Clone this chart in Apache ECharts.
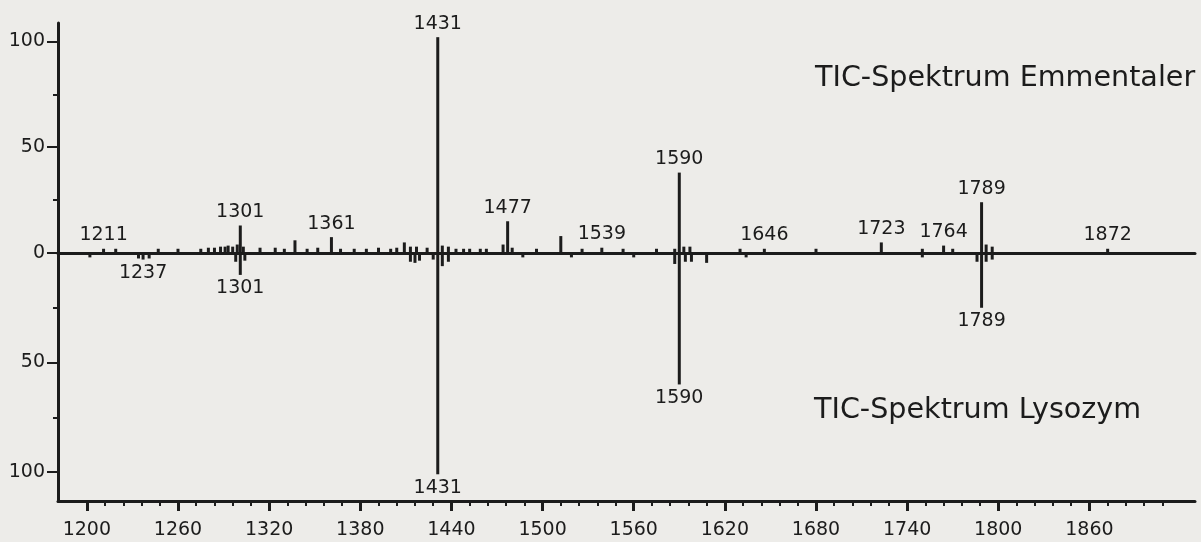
<!DOCTYPE html>
<html>
<head>
<meta charset="utf-8">
<script src="https://cdn.jsdelivr.net/npm/echarts@6/dist/echarts.min.js"></script>
<style>
  html, body { margin: 0; padding: 0; background: #edece9; }
  #main { width: 1201px; height: 542px; }
</style>
</head>
<body>
<div id="main"></div>
<script>
// m/z-Achse
const xMajorTicks = [1200, 1260, 1320, 1380, 1440, 1500, 1560, 1620, 1680, 1740, 1800, 1860];
const xMinorStep = 12;
const yMajorTop = [0, 50, 100];
const yMajorBottom = [50, 100];
const yMinor = [25, 75];

// TIC-Spektrum Emmentaler (oben)
const upperMz = [1211, 1219, 1247, 1260, 1275, 1280, 1284, 1288, 1291, 1293, 1296, 1299, 1301, 1303,
  1314, 1324, 1330, 1337, 1345, 1352, 1361, 1367, 1376, 1384, 1392, 1400, 1404, 1409, 1413, 1417,
  1424, 1431, 1434, 1438, 1443, 1448, 1452, 1459, 1463, 1474, 1477, 1480, 1496, 1512, 1526, 1539,
  1553, 1575, 1587, 1590, 1593, 1597, 1630, 1646, 1680, 1723, 1750, 1764, 1770, 1789, 1792, 1796, 1872];
const upperInt = [2, 2, 2, 2, 2, 2.5, 2.5, 3, 3, 3.5, 3, 4, 13, 3,
  2.5, 2.5, 2, 6, 2, 2.5, 7.5, 2, 2, 2, 2.5, 2, 2.5, 5, 3, 3,
  2.5, 102, 3.5, 3, 2, 2, 2, 2, 2, 4, 15, 2.5, 2, 8, 2, 2.5,
  2, 2, 2, 38, 3, 3, 2, 2, 2, 5, 2, 3.5, 2, 24, 4, 3, 2];
const upperLabels = [1211, 1301, 1361, 1431, 1477, 1539, 1590, 1646, 1723, 1764, 1789, 1872];

// TIC-Spektrum Lysozym (unten, gespiegelt)
const lowerMz = [1202, 1234, 1237, 1241, 1298, 1301, 1304, 1413, 1416, 1419, 1428, 1431, 1434, 1438,
  1487, 1519, 1560, 1587, 1590, 1594, 1598, 1608, 1634, 1750, 1786, 1789, 1792, 1796];
const lowerInt = [2, 2.5, 3, 2.5, 4, 10, 3.5, 4, 4.5, 3.5, 3, 101, 6, 4,
  2, 2, 2, 5, 60, 4, 4, 4.5, 2, 2, 4, 25, 4, 3];
const lowerLabels = [1237, 1301, 1431, 1590, 1789];

const ink = '#1c1c1c';
const font = 'DejaVu Sans';
const xMin = 1181, xMax = 1929.5;

const xMinorTicks = [];
for (let v = xMajorTicks[0]; v <= 1908; v += xMinorStep) {
  if (xMajorTicks.indexOf(v) < 0) xMinorTicks.push(v);
}

const toData = (mz, ints, labels) => mz.map((m, i) => {
  const item = { value: [m, ints[i]] };
  if (labels.indexOf(m) > -1) item.label = { show: true };
  return item;
});

const plain = v => String(v);

const baseX = {
  type: 'value', min: xMin, max: xMax,
  splitLine: { show: false },
  axisLine: { onZero: false, lineStyle: { color: ink, width: 3 } },
};

const chart = echarts.init(document.getElementById('main'));
chart.setOption({
  backgroundColor: '#edece9',
  animation: false,
  grid: [
    { left: 58, right: 6, top: 23, height: 230 },
    { left: 58, right: 6, top: 253, height: 248 },
  ],
  xAxis: [
    Object.assign({}, baseX, { gridIndex: 0, position: 'bottom', axisTick: { show: false }, axisLabel: { show: false } }),
    Object.assign({}, baseX, {
      gridIndex: 1, position: 'bottom',
      axisTick: { customValues: xMajorTicks, length: 10, lineStyle: { color: ink, width: 3 } },
      axisLabel: { customValues: xMajorTicks, color: ink, fontSize: 19, fontFamily: font, margin: 20, formatter: plain },
    }),
    Object.assign({}, baseX, {
      gridIndex: 1, position: 'bottom',
      axisLine: { show: false, onZero: false },
      axisTick: { customValues: xMinorTicks, length: 5, lineStyle: { color: ink, width: 2 } },
      axisLabel: { show: false },
    }),
  ],
  yAxis: [
    {
      type: 'value', gridIndex: 0, position: 'left', min: 0, max: 108.7,
      splitLine: { show: false },
      axisLine: { show: true, onZero: false, lineStyle: { color: ink, width: 3 } },
      axisTick: { customValues: yMajorTop, length: 11, lineStyle: { color: ink, width: 2 } },
      axisLabel: { customValues: yMajorTop, color: ink, fontSize: 19, fontFamily: font, margin: 13, formatter: plain },
    },
    {
      type: 'value', gridIndex: 0, position: 'left', min: 0, max: 108.7,
      splitLine: { show: false },
      axisLine: { show: false, onZero: false },
      axisTick: { customValues: yMinor, length: 5, lineStyle: { color: ink, width: 2 } },
      axisLabel: { show: false },
    },
    {
      type: 'value', gridIndex: 1, position: 'left', min: 0, max: 113.2, inverse: true,
      splitLine: { show: false },
      axisLine: { show: true, onZero: false, lineStyle: { color: ink, width: 3 } },
      axisTick: { customValues: yMajorBottom, length: 11, lineStyle: { color: ink, width: 2 } },
      axisLabel: { customValues: yMajorBottom, color: ink, fontSize: 19, fontFamily: font, margin: 13, formatter: plain },
    },
    {
      type: 'value', gridIndex: 1, position: 'left', min: 0, max: 113.2, inverse: true,
      splitLine: { show: false },
      axisLine: { show: false, onZero: false },
      axisTick: { customValues: yMinor, length: 5, lineStyle: { color: ink, width: 2 } },
      axisLabel: { show: false },
    },
  ],
  graphic: [
    { type: 'text', x: 815, y: 79, style: { text: 'TIC-Spektrum Emmentaler', font: '28.6px "DejaVu Sans"', fill: ink, verticalAlign: 'middle' } },
    { type: 'text', x: 814, y: 411, style: { text: 'TIC-Spektrum Lysozym', font: '28.6px "DejaVu Sans"', fill: ink, verticalAlign: 'middle' } },
  ],
  series: [
    {
      name: 'Emmentaler', type: 'bar', xAxisIndex: 0, yAxisIndex: 0,
      barWidth: 3, itemStyle: { color: ink },
      label: { show: false, position: 'top', distance: 4, color: ink, fontSize: 19, fontFamily: font,
        formatter: p => p.value[0] },
      data: toData(upperMz, upperInt, upperLabels),
    },
    {
      name: 'Lysozym', type: 'bar', xAxisIndex: 1, yAxisIndex: 2,
      barWidth: 3, itemStyle: { color: ink },
      label: { show: false, position: 'bottom', distance: 4, color: ink, fontSize: 19, fontFamily: font,
        formatter: p => p.value[0] },
      data: toData(lowerMz, lowerInt, lowerLabels),
    },
  ],
});
</script>
</body>
</html>
